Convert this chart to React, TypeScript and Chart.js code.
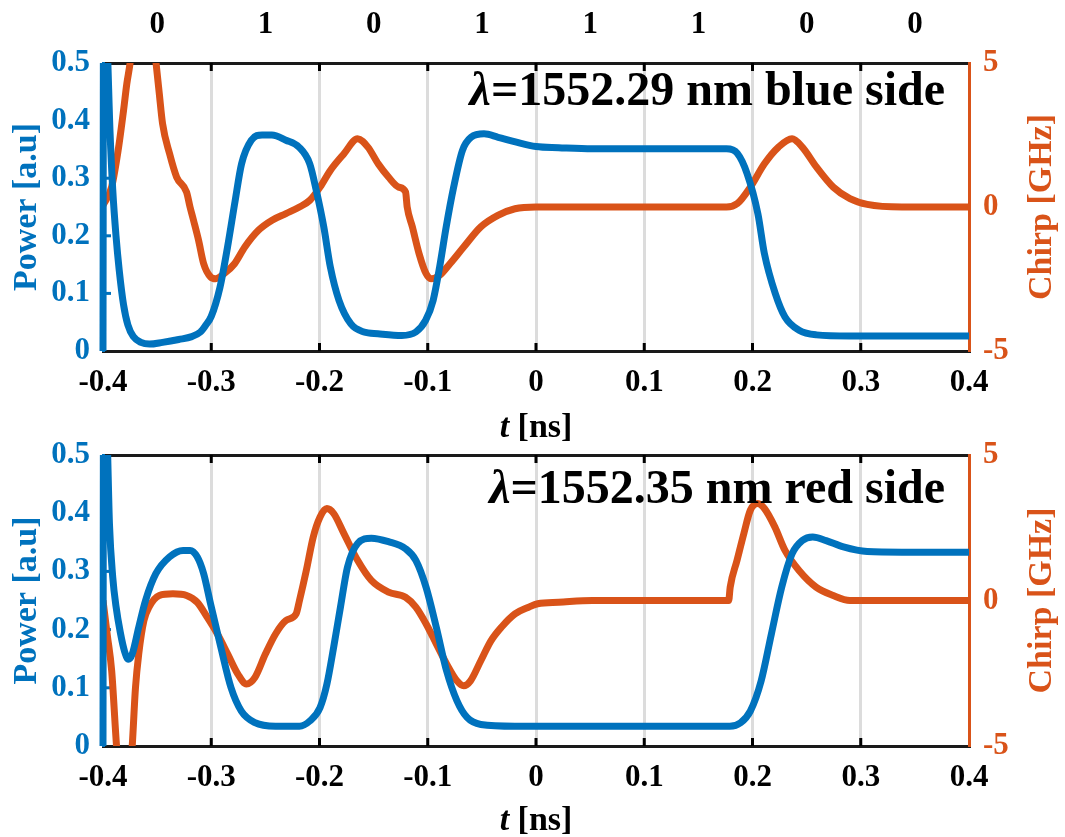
import React, { useEffect, useRef } from "react";
import { Chart, registerables } from "chart.js";

Chart.register(...registerables);

const BLUE = "#0072BD";
const ORANGE = "#D95319";
const FONT = "Liberation Serif";

// bit pattern shown above the top panel
const bitLabels = ["0", "1", "0", "1", "1", "1", "0", "0"];
const bitCenters = [-0.35, -0.25, -0.15, -0.05, 0.05, 0.15, 0.25, 0.35];

// panel annotations
const panelLabels = ["=1552.29 nm blue side", "=1552.35 nm red side"];

// ---- top panel (blue side) ----
const tTopPower = [
  -0.4, -0.3995, -0.3965, -0.3935, -0.391, -0.388, -0.385, -0.381, -0.377, -0.372, -0.365, -0.357,
  -0.345, -0.33, -0.318, -0.31, -0.305, -0.3, -0.292, -0.285, -0.278, -0.272, -0.263, -0.253, -0.244,
  -0.231, -0.219, -0.209, -0.203, -0.196, -0.19, -0.182, -0.171, -0.159, -0.146, -0.124, -0.111,
  -0.102, -0.095, -0.089, -0.083, -0.076, -0.068, -0.06, -0.048, -0.035, -0.019, 0.0, 0.021, 0.052,
  0.176, 0.186, 0.195, 0.205, 0.211, 0.221, 0.23, 0.243, 0.259, 0.29, 0.4,
];
const powerTop = [
  0.0, 0.6, 0.55, 0.38, 0.28, 0.2, 0.14, 0.08, 0.045, 0.025, 0.015, 0.012,
  0.015, 0.02, 0.025, 0.033, 0.045, 0.06, 0.11, 0.18, 0.26, 0.325, 0.366, 0.375, 0.375,
  0.366, 0.354, 0.325, 0.279, 0.215, 0.146, 0.088, 0.047, 0.033, 0.03, 0.027, 0.033,
  0.053, 0.088, 0.146, 0.215, 0.285, 0.348, 0.371, 0.377, 0.371, 0.363, 0.355, 0.353, 0.351,
  0.351, 0.343, 0.308, 0.238, 0.169, 0.1, 0.059, 0.036, 0.028, 0.026, 0.026,
];
const tTopChirp = [
  -0.4, -0.392, -0.386, -0.381, -0.378, -0.375, -0.37, -0.363, -0.356, -0.351, -0.348, -0.345,
  -0.3385, -0.332, -0.3228, -0.3196, -0.3164, -0.3117, -0.307, -0.3006, -0.296, -0.288, -0.2785,
  -0.269, -0.2564, -0.2438, -0.231, -0.2185, -0.209, -0.1995, -0.19, -0.1774, -0.1648, -0.1553,
  -0.1458, -0.1363, -0.1269, -0.1205, -0.119, -0.1142, -0.108, -0.1016, -0.097, -0.089, -0.0795,
  -0.0668, -0.051, -0.0352, -0.0194, 0.0, 0.176, 0.186, 0.198, 0.211, 0.224, 0.2365, 0.246, 0.259,
  0.2746, 0.29, 0.306, 0.338, 0.4,
];
const chirpTop = [
  0.06, 0.7, 1.97, 3.36, 4.28, 5.0, 6.8, 8.0, 6.8, 5.0, 3.94, 2.9,
  1.85, 1.04, 0.52, 0.0, -0.46, -1.16, -1.97, -2.43, -2.49, -2.31, -1.97,
  -1.39, -0.81, -0.46, -0.23, 0.0, 0.23, 0.69, 1.27, 1.85, 2.37, 2.08,
  1.5, 1.04, 0.69, 0.52, 0.0, -0.69, -1.62, -2.31, -2.49, -2.37, -1.97,
  -1.39, -0.69, -0.29, -0.06, 0.0, 0.0, 0.12, 0.69, 1.5, 2.08, 2.37, 2.08, 1.39,
  0.69, 0.29, 0.09, 0.0, 0.0,
];

// ---- bottom panel (red side) ----
const tBotPower = [
  -0.4, -0.3995, -0.3965, -0.394, -0.391, -0.388, -0.384, -0.38, -0.3765, -0.373, -0.367, -0.3607,
  -0.3512, -0.3385, -0.326, -0.3196, -0.313, -0.307, -0.3006, -0.2912, -0.2817, -0.2722, -0.2596,
  -0.2406, -0.2185, -0.209, -0.1995, -0.1932, -0.1869, -0.1806, -0.1742, -0.1648, -0.1521, -0.1363,
  -0.1205, -0.111, -0.1016, -0.0921, -0.0826, -0.0731, -0.0637, -0.051, -0.0194, 0.179, 0.189, 0.198,
  0.208, 0.2175, 0.227, 0.2365, 0.246, 0.2556, 0.268, 0.284, 0.306, 0.338, 0.4,
];
const powerBot = [
  0.0, 0.6, 0.55, 0.38, 0.29, 0.24, 0.195, 0.162, 0.149, 0.158, 0.204, 0.25,
  0.296, 0.325, 0.336, 0.336, 0.325, 0.296, 0.244, 0.17, 0.1, 0.06, 0.04,
  0.034, 0.034, 0.043, 0.066, 0.106, 0.17, 0.239, 0.307, 0.348, 0.357, 0.351,
  0.339, 0.319, 0.273, 0.204, 0.129, 0.078, 0.049, 0.037, 0.034, 0.034, 0.04, 0.06,
  0.112, 0.193, 0.273, 0.33, 0.353, 0.359, 0.353, 0.342, 0.334, 0.333, 0.333,
];
const tBotChirp = [
  -0.4, -0.396, -0.392, -0.3875, -0.384, -0.38, -0.376, -0.373, -0.37, -0.367, -0.3622, -0.3575,
  -0.348, -0.3354, -0.3228, -0.313, -0.3038, -0.2943, -0.2848, -0.2754, -0.2675, -0.2596, -0.25,
  -0.2406, -0.231, -0.2216, -0.2185, -0.2122, -0.2058, -0.1995, -0.1932, -0.1869, -0.1774, -0.1648,
  -0.1521, -0.1363, -0.1205, -0.111, -0.1016, -0.0921, -0.0826, -0.0731, -0.0668, -0.0605, -0.051,
  -0.0415, -0.032, -0.0194, -0.0068, 0.0016, 0.021, 0.052, 0.178, 0.1794, 0.1857, 0.192, 0.198,
  0.2048, 0.211, 0.2206, 0.23, 0.243, 0.2587, 0.2746, 0.29, 0.4,
];
const chirpBot = [
  0.0, -1.2, -2.41, -5.0, -6.5, -7.2, -6.5, -5.0, -3.0, -1.84, -0.69, -0.23,
  0.17, 0.23, 0.17, -0.06, -0.57, -1.15, -1.84, -2.53, -2.87, -2.64, -1.84,
  -1.15, -0.69, -0.46, 0.0, 1.03, 2.18, 2.87, 3.16, 2.99, 2.3, 1.38,
  0.69, 0.29, 0.11, -0.23, -0.8, -1.49, -2.18, -2.76, -2.93, -2.76, -2.07,
  -1.38, -0.92, -0.46, -0.23, -0.11, -0.06, 0.0, 0.0, 0.46, 1.38, 2.3, 3.1,
  3.33, 3.16, 2.53, 1.72, 1.03, 0.46, 0.17, 0.0, 0.0,
];

const xyPoints = (xs: number[], ys: number[]) => xs.map((x, i) => ({ x, y: ys[i] }));

const overlayPlugin = {
  id: "overlay",
  beforeDatasetsDraw(chart: any) {
    const { ctx, chartArea, scales } = chart;
    const { top, bottom, left, right } = chartArea;
    ctx.save();
    ctx.lineWidth = 3;
    ctx.strokeStyle = "#000";
    scales.x.ticks.forEach((t: any) => {
      if (Math.abs(t.value) > 0.399) return;
      const px = scales.x.getPixelForValue(t.value);
      ctx.beginPath();
      ctx.moveTo(px, top);
      ctx.lineTo(px, top + 8);
      ctx.moveTo(px, bottom);
      ctx.lineTo(px, bottom - 8);
      ctx.stroke();
    });
    ctx.strokeStyle = BLUE;
    scales.y.ticks.forEach((t: any) => {
      if (t.value <= 0 || t.value >= 0.5) return;
      const py = scales.y.getPixelForValue(t.value);
      ctx.beginPath();
      ctx.moveTo(left, py);
      ctx.lineTo(left + 8, py);
      ctx.stroke();
    });
    ctx.strokeStyle = ORANGE;
    scales.y2.ticks.forEach((t: any) => {
      if (t.value <= -5 || t.value >= 5) return;
      const py = scales.y2.getPixelForValue(t.value);
      ctx.beginPath();
      ctx.moveTo(right, py);
      ctx.lineTo(right - 8, py);
      ctx.stroke();
    });
    ctx.restore();
  },
  afterDraw(chart: any, _args: any, opts: any) {
    const { ctx, chartArea } = chart;
    ctx.save();
    ctx.fillStyle = "#000";
    ctx.textBaseline = "alphabetic";
    ctx.textAlign = "left";
    const big = 48;
    ctx.font = `bold ${big}px "${FONT}"`;
    const wRest = ctx.measureText(opts.text).width;
    ctx.font = `italic bold ${big}px "${FONT}"`;
    const wL = ctx.measureText("λ").width;
    const xR = chartArea.right - 24;
    const yB = chartArea.top + opts.baseline;
    ctx.fillText("λ", xR - wRest - wL, yB);
    ctx.font = `bold ${big}px "${FONT}"`;
    ctx.fillText(opts.text, xR - wRest, yB);

    ctx.textBaseline = "middle";
    const ts = 34;
    ctx.font = `italic bold ${ts}px "${FONT}"`;
    const wt = ctx.measureText("t").width;
    ctx.font = `bold ${ts}px "${FONT}"`;
    const wns = ctx.measureText(" [ns]").width;
    const cx = (chartArea.left + chartArea.right) / 2;
    const ty = chartArea.bottom + opts.xTitleOffset;
    const x0 = cx - (wt + wns) / 2;
    ctx.font = `italic bold ${ts}px "${FONT}"`;
    ctx.fillText("t", x0, ty);
    ctx.font = `bold ${ts}px "${FONT}"`;
    ctx.fillText(" [ns]", x0 + wt, ty);

    ctx.fillStyle = ORANGE;
    ctx.textAlign = "center";
    ctx.translate(chartArea.right + 73, (chartArea.top + chartArea.bottom) / 2);
    ctx.rotate(-Math.PI / 2);
    ctx.fillText("Chirp [GHz]", 0, 0);
    ctx.restore();
  },
};

type PanelProps = {
  height: number;
  top: number;
  areaTop: number;
  areaBottom: number;
  tP: number[];
  p: number[];
  tC: number[];
  c: number[];
  label: string;
  baseline: number;
  showBits: boolean;
  xTitleOffset: number;
};

function Panel(props: PanelProps) {
  const ref = useRef<HTMLCanvasElement | null>(null);
  useEffect(() => {
    if (!ref.current) return;
    const tickFont = { family: FONT, size: 31, weight: "bold" as const };
    const chart = new Chart(ref.current, {
      type: "line",
      data: {
        datasets: [
          {
            data: xyPoints(props.tP, props.p),
            yAxisID: "y",
            borderColor: BLUE,
            borderWidth: 7,
            pointRadius: 0,
            cubicInterpolationMode: "monotone",
            clip: { left: 4, top: 0, right: 0, bottom: 2 } as any,
          },
          {
            data: xyPoints(props.tC, props.c),
            yAxisID: "y2",
            borderColor: ORANGE,
            borderWidth: 7,
            pointRadius: 0,
            cubicInterpolationMode: "monotone",
            clip: { left: 3, top: 0, right: 0, bottom: 0 } as any,
          },
        ],
      },
      options: {
        animation: false,
        responsive: false,
        maintainAspectRatio: false,
        devicePixelRatio: 1,
        layout: { padding: 0 },
        events: [],
        plugins: {
          legend: { display: false },
          tooltip: { enabled: false },
          overlay: { text: props.label, baseline: props.baseline, xTitleOffset: props.xTitleOffset },
        } as any,
        scales: {
          x: {
            type: "linear",
            position: "bottom",
            min: -0.4,
            max: 0.4,
            ticks: { stepSize: 0.1, color: "#000", font: tickFont, padding: 13, maxRotation: 0 },
            grid: {
              drawTicks: false,
              lineWidth: 3,
              color: (ctx: any) =>
                ctx.tick && Math.abs(ctx.tick.value) > 0.399 ? "rgba(0,0,0,0)" : "#dcdcdc",
            },
            border: { color: "#1a1a1a", width: 3 },
            afterFit: (s: any) => {
              s.height = props.height - props.areaBottom;
            },
          },
          xTop: {
            type: "linear",
            position: "top",
            min: -0.4,
            max: 0.4,
            afterBuildTicks: (s: any) => {
              s.ticks = bitCenters.map((v) => ({ value: v }));
            },
            ticks: {
              display: props.showBits,
              autoSkip: false,
              maxRotation: 0,
              color: "#000",
              font: tickFont,
              padding: 19,
              callback: (_v: any, i: number) => bitLabels[i],
            },
            grid: { display: false, drawTicks: false },
            border: { color: "#1a1a1a", width: 3 },
            afterFit: (s: any) => {
              s.height = props.areaTop;
            },
          },
          y: {
            type: "linear",
            position: "left",
            min: 0,
            max: 0.5,
            ticks: { stepSize: 0.1, color: BLUE, font: tickFont, padding: 13 },
            grid: { display: false, drawTicks: false },
            border: { color: BLUE, width: 3 },
            title: {
              display: true,
              text: "Power [a.u]",
              color: BLUE,
              font: { family: FONT, size: 34, weight: "bold" },
              padding: { top: 7, bottom: 0 },
            },
            afterFit: (s: any) => {
              s.width = 103;
            },
          },
          y2: {
            type: "linear",
            position: "right",
            min: -5,
            max: 5,
            ticks: { stepSize: 5, color: ORANGE, font: tickFont, padding: 14 },
            grid: { display: false, drawTicks: false },
            border: { color: ORANGE, width: 3 },
            afterFit: (s: any) => {
              s.width = 96;
            },
          },
        },
      } as any,
      plugins: [overlayPlugin as any],
    });
    return () => chart.destroy();
  }, []);
  return (
    <canvas
      ref={ref}
      width={1065}
      height={props.height}
      style={{ position: "absolute", left: 0, top: props.top, width: 1065, height: props.height }}
    />
  );
}

export default function App() {
  return (
    <div style={{ position: "absolute", left: 0, top: 0, width: 1065, height: 837, background: "#fff" }}>
      <Panel
        height={450}
        top={0}
        areaTop={63}
        areaBottom={351}
        tP={tTopPower}
        p={powerTop}
        tC={tTopChirp}
        c={chirpTop}
        label={panelLabels[0]}
        baseline={42}
        showBits={true}
        xTitleOffset={77}
      />
      <Panel
        height={417}
        top={420}
        areaTop={35}
        areaBottom={326}
        tP={tBotPower}
        p={powerBot}
        tC={tBotChirp}
        c={chirpBot}
        label={panelLabels[1]}
        baseline={48}
        showBits={false}
        xTitleOffset={75}
      />
    </div>
  );
}
